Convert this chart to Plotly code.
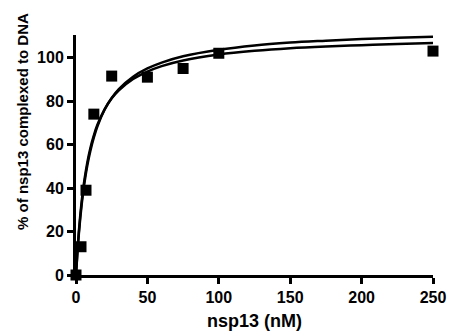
import plotly.graph_objects as go

# Measured data points
conc_nM = [0, 3.5, 7, 12.5, 25, 50, 75, 100, 250]
pct_complexed = [0, 13, 39, 74, 91.5, 91, 95, 102, 103]

# Fitted curves
curve_x = [0, 1, 2, 3, 4, 5, 6, 8, 10, 12.5, 15, 20, 25, 30, 40, 50, 60, 75,
           100, 125, 150, 175, 200, 225, 250]
curve_upper = [0, 10.4, 19.0, 26.3, 32.6, 38.0, 42.8, 50.7, 57.0, 63.3, 68.4, 76.0,
               81.4, 85.5, 91.2, 95.0, 97.7, 100.6, 103.6, 105.6, 106.9, 107.8,
               108.6, 109.1, 109.6]
curve_lower = [0, 11.0, 20.1, 27.6, 34.0, 39.5, 44.2, 52.0, 58.2, 64.2, 69.1, 76.2,
               81.3, 85.0, 90.2, 93.6, 96.1, 98.7, 101.4, 103.1, 104.3, 105.1,
               105.7, 106.3, 106.7]

x_ticks = [0, 50, 100, 150, 200, 250]
y_ticks = [0, 20, 40, 60, 80, 100]

x_title = "nsp13 (nM)"
y_title = "% of nsp13 complexed to DNA"

FONT = "Liberation Sans, Arial, sans-serif"

fig = go.Figure()
for ys in (curve_upper, curve_lower):
    fig.add_trace(go.Scatter(x=curve_x, y=ys, mode="lines",
                             line=dict(color="black", width=2.5, shape="spline"),
                             cliponaxis=False, hoverinfo="skip"))
fig.add_trace(go.Scatter(x=conc_nM, y=pct_complexed, mode="markers",
                         marker=dict(symbol="square", size=11, color="black"),
                         cliponaxis=False))

axis_common = dict(showgrid=False, zeroline=False, automargin=False,
                   showline=True, linecolor="black", linewidth=3,
                   ticks="outside", ticklen=6, tickwidth=3, tickcolor="black",
                   tickfont=dict(family=FONT, size=16, color="black", weight="bold"))

fig.update_layout(
    width=450, height=332,
    margin=dict(l=76, r=17, t=35, b=57),
    paper_bgcolor="white", plot_bgcolor="white",
    showlegend=False,
    font=dict(family=FONT, color="black"),
    xaxis=dict(range=[0, 250], tickvals=x_ticks,
               title=dict(text="<b>" + x_title + "</b>", font=dict(size=18), standoff=10),
               **axis_common),
    yaxis=dict(range=[0, 110.4], tickvals=y_ticks, **axis_common),
    annotations=[dict(text="<b>" + y_title + "</b>", textangle=-90,
                      xref="paper", yref="paper", x=-0.1485, y=0.642,
                      xanchor="center", yanchor="middle", showarrow=False,
                      font=dict(family=FONT, size=15, color="black"))],
)

fig.write_html("out.html", config={"displayModeBar": False},
               post_script="document.body.style.margin='0';document.body.style.padding='0';")
